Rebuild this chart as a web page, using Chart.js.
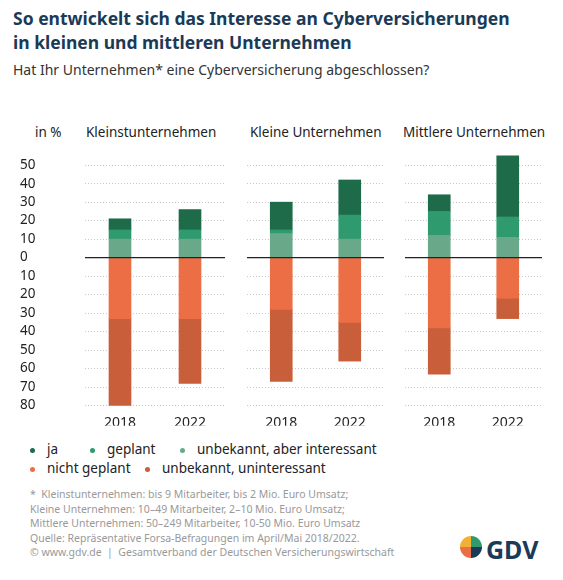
<!DOCTYPE html><html><head><meta charset="utf-8">
<script src="https://cdn.jsdelivr.net/npm/chart.js@4"></script>
<style>
body{margin:0;width:563px;height:580px;background:#fff;font-family:"Noto Sans",sans-serif;position:relative;overflow:hidden}
.t{position:absolute;left:13px;top:6px;font-size:17.5px;font-weight:bold;color:#1b3a57;line-height:24px}
.s{position:absolute;left:13px;top:60px;font-size:14px;color:#333}
.p{position:absolute;top:123px;font-size:13.5px;color:#222}
canvas{position:absolute}
.lg{position:absolute;font-size:13.5px;color:#222}
.d{display:inline-block;width:5px;height:5px;border-radius:50%;margin-right:12px;vertical-align:middle}
.f{position:absolute;left:30px;top:487px;font-size:10.5px;color:#999;line-height:14.5px}
</style></head><body>
<div class="t">So entwickelt sich das Interesse an Cyberversicherungen<br>in kleinen und mittleren Unternehmen</div>
<div class="s">Hat Ihr Unternehmen* eine Cyberversicherung abgeschlossen?</div>
<div class="p" style="left:35px">in %</div>
<div class="p" style="left:86px">Kleinstunternehmen</div>
<div class="p" style="left:250px">Kleine Unternehmen</div>
<div class="p" style="left:403px">Mittlere Unternehmen</div>
<div style="position:absolute;left:0;top:138px;width:563px;height:291px"><canvas id="c1" style="left:20px;top:0;width:205px;height:291px"></canvas><canvas id="c2" style="left:247px;top:0;width:137px;height:291px"></canvas><canvas id="c3" style="left:405px;top:0;width:137px;height:291px"></canvas></div>
<div class="lg" style="left:30px;top:440px"><span class="d" style="background:#1e6b4a"></span>ja</div>
<div class="lg" style="left:90px;top:440px"><span class="d" style="background:#2e9a6e"></span>geplant</div>
<div class="lg" style="left:180px;top:440px"><span class="d" style="background:#6aa88a"></span>unbekannt, aber interessant</div>
<div class="lg" style="left:30px;top:459px"><span class="d" style="background:#eb6e45"></span>nicht geplant</div>
<div class="lg" style="left:145px;top:459px"><span class="d" style="background:#c95f3a"></span>unbekannt, uninteressant</div>
<div class="f">* &nbsp;Kleinstunternehmen: bis 9 Mitarbeiter, bis 2 Mio. Euro Umsatz;<br>Kleine Unternehmen: 10–49 Mitarbeiter, 2–10 Mio. Euro Umsatz;<br>Mittlere Unternehmen: 50–249 Mitarbeiter, 10-50 Mio. Euro Umsatz<br>Quelle: Repräsentative Forsa-Befragungen im April/Mai 2018/2022.<br>© www.gdv.de &nbsp;| &nbsp;Gesamtverband der Deutschen Versicherungswirtschaft</div>
<div style="position:absolute;left:460px;top:536px;width:22px;height:22px;border-radius:50%;background:conic-gradient(#2e9a6e 0 25%,#1b3a57 25% 50%,#eb6e45 50% 75%,#f2b134 75%)"></div>
<div style="position:absolute;left:486px;top:532px;font-size:25px;font-weight:bold;color:#1b3a57">GDV</div>
<script>
const years=['2018','2022'];
const ja=[[6,11],[15,19],[9,33]];
const geplant=[[5,5],[2,13],[13,11]];
const unbekInt=[[10,10],[13,10],[12,11]];
const nichtGeplant=[[33,33],[28,35],[38,22]];
const unbekUnint=[[47,35],[39,21],[25,11]];
const cols=['#6aa88a','#2e9a6e','#1e6b4a','#eb6e45','#c95f3a'];
const zeroLine={id:'zero',afterDatasetsDraw(ch){const y=ch.scales.y.getPixelForValue(0),a=ch.chartArea,c=ch.ctx;c.save();c.strokeStyle='#222';c.lineWidth=1.2;c.beginPath();c.moveTo(a.left,y);c.lineTo(a.right,y);c.stroke();c.restore();}};
function mk(id,i,showY){
 const ds=[unbekInt[i],geplant[i],ja[i],nichtGeplant[i].map(v=>-v),unbekUnint[i].map(v=>-v)].map((d,k)=>({data:d,backgroundColor:cols[k],barThickness:22,borderWidth:0}));
 new Chart(document.getElementById(id),{type:'bar',data:{labels:years,datasets:ds},options:{responsive:false,animation:false,events:[],
 layout:{padding:{top:5,right:0,left:0,bottom:0}},
 plugins:{legend:{display:false},tooltip:{enabled:false}},
 scales:{x:{stacked:true,grid:{display:false},border:{display:false},ticks:{color:'#222',font:{size:14,family:'Noto Sans'},padding:-6}},
 y:{stacked:true,min:-84,max:56,afterBuildTicks:a=>{a.ticks=[];for(let v=-80;v<=50;v+=10)a.ticks.push({value:v});},
  afterFit:a=>{a.width=showY?65:0},
  grid:{color:'#c8c8c8',lineWidth:1,drawTicks:false},
  border:{display:false,dash:[1,2]},
  ticks:{display:true,autoSkip:false,crossAlign:'far',padding:8,color:showY?'#222':'rgba(0,0,0,0)',font:{size:13.5,family:'Noto Sans'},callback:v=>Math.abs(v)}}}},
 plugins:[zeroLine]});
}
mk('c1',0,true);mk('c2',1,false);mk('c3',2,false);
</script></body></html>
